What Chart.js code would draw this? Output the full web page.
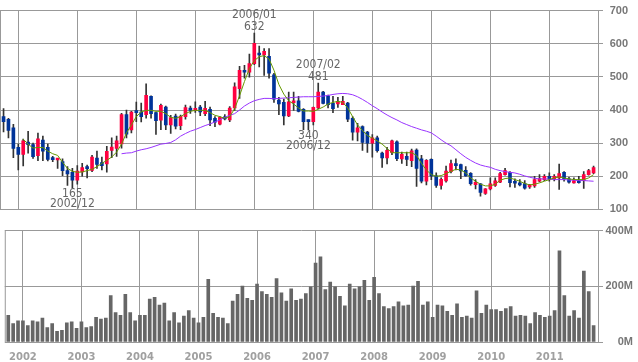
<!DOCTYPE html>
<html>
<head>
<meta charset="utf-8">
<script src="https://cdn.jsdelivr.net/npm/chart.js@4.4.0/dist/chart.umd.min.js"></script>
<style>
  body { margin: 0; background: #fff; }
  #wrap { position: relative; width: 638px; height: 362px; }
  #priceChart { position: absolute; left: 0; top: 0; }
  #volChart { position: absolute; left: 0; top: 220px; }
</style>
</head>
<body>
<div id="wrap">
  <canvas id="priceChart" width="638" height="220"></canvas>
  <canvas id="volChart" width="638" height="142"></canvas>
</div>
<script>
// monthly data, 2001/10 .. 2011/10
const startYear = 2001, startMonth = 10;

const opens = [380,372,346,287,266,303,296,262,309,287,254,249,244,217,212,188,213,227,218,255,
  241,237,278,284,298,386,340,398,394,386,441,392,369,409,355,382,353,380,406,399,
  409,389,402,375,357,379,370,406,464,520,514,540,572,566,562,506,430,423,382,422,
  428,402,370,365,406,454,443,420,418,416,421,375,333,350,333,300,316,270,255,271,
  304,252,260,247,279,253,185,251,201,172,186,214,237,235,218,209,175,177,148,162,
  172,182,205,212,182,180,178,168,171,185,190,200,192,195,212,192,180,187,187,205,210];
const highs = [404,375,357,297,312,336,300,330,321,297,260,254,253,229,224,232,239,234,263,276,
  258,290,316,321,390,400,396,424,421,479,443,394,418,412,384,388,385,415,412,425,
  414,426,409,380,380,386,410,482,532,535,569,632,593,585,585,511,438,433,454,454,
  441,404,370,409,481,456,445,441,438,441,423,380,360,352,336,326,321,273,287,309,
  307,273,273,282,283,263,250,253,210,195,231,249,253,237,229,211,190,178,163,195,
  195,212,224,214,192,190,187,176,200,205,205,210,205,237,214,197,195,200,214,221,231];
const lows = [334,316,256,219,231,270,254,247,247,246,244,224,202,172,165,176,200,195,214,224,
  219,212,256,260,285,316,331,365,364,375,375,326,341,341,329,343,341,372,390,393,
  383,383,353,350,355,370,365,399,435,496,499,537,530,504,496,423,386,355,380,399,
  394,341,340,355,404,418,406,392,408,416,365,309,307,278,272,258,273,227,237,265,
  247,239,232,229,169,180,174,190,166,161,182,210,219,193,200,173,162,140,145,159,
  169,181,203,168,166,171,161,163,166,183,187,185,186,160,185,179,179,179,163,203,208];
const closes = [365,338,284,266,307,295,259,313,276,251,250,251,217,207,188,216,226,223,258,236,
  232,275,288,307,386,327,394,392,380,444,389,368,414,355,377,351,381,407,399,405,
  394,405,370,363,378,373,406,470,520,514,540,601,566,577,511,433,418,382,425,425,
  396,365,365,408,454,420,416,404,426,426,372,333,346,302,300,316,277,255,278,307,
  253,266,251,277,224,185,248,201,172,191,216,238,232,216,201,178,182,151,162,177,
  186,208,217,181,179,174,164,174,190,193,200,192,200,208,192,182,187,181,205,217,226];

// volume in millions of shares
const volumes = [96,66,76,76,59,76,72,86,52,66,38,42,69,72,49,72,52,55,89,82,
  86,167,106,96,171,106,76,96,96,154,160,133,140,76,106,69,93,113,86,69,
  89,225,103,89,86,66,147,171,201,157,150,208,181,171,160,228,177,147,191,150,
  154,174,198,283,306,188,215,198,164,130,208,191,198,221,150,232,174,127,120,127,
  144,130,133,201,218,133,144,89,133,130,110,96,137,89,93,86,184,103,133,116,
  116,110,120,127,93,96,93,66,106,96,89,93,113,327,167,93,113,86,255,181,59];

// short moving average (green), starts at month index 4
const maShortStart = 4;
const maShort = [312,297,285,287,287,276,268,263,242,224,215,212,213,217,221,229,239,248,258,273,
  297,331,355,380,394,399,399,396,396,389,378,375,380,389,396,399,399,399,392,384,
  380,375,380,404,443,486,525,549,561,564,554,520,477,448,428,418,406,397,397,396,
  402,409,418,423,426,423,406,380,355,338,323,315,307,297,284,271,271,271,271,271,
  263,239,219,205,200,202,208,215,221,219,210,195,185,176,171,171,176,188,193,195,
  190,185,178,174,176,180,185,190,195,198,195,192,190,190,190,195,205];

// long moving average (purple), starts at month index 24
const maLongStart = 24;
const maLong = [268,270,271,276,280,283,287,292,297,299,302,310,321,329,336,341,347,353,358,364,
  370,378,384,389,400,412,421,428,432,435,435,434,435,436,437,438,439,440,440,440,
  441,442,444,447,449,450,449,446,440,432,423,413,404,394,385,377,370,362,356,350,
  345,340,336,331,321,310,300,292,280,268,257,248,240,234,230,227,221,217,214,212,
  210,206,201,197,194,192,192,191,190,190,190,189,188,187,187,186,185];

const yearLabels = ['2002','2003','2004','2005','2006','2007','2008','2009','2010','2011'];
const priceTicks = [100,200,300,400,500,600,700];
const volTicks = [0,200,400];

// marked extremes: [month index, 'high' | 'low']
const notes = [[51,'high'],[64,'high'],[14,'low'],[62,'low']];

const months = [];
for (let i = 0; i < opens.length; i++) {
  const m = (startMonth - 1 + i) % 12 + 1;
  const y = startYear + Math.floor((startMonth - 1 + i) / 12);
  months.push(y + '/' + String(m).padStart(2, '0'));
}
const yearIdx = yearLabels.map(y => months.indexOf(y + '/01'));

const UP = '#ff0040', DOWN = '#003399', GRID = '#999999';
const X_MIN = -0.72, X_MAX = 120.9;
const AXIS_FONT = { family: 'Liberation Sans', size: 11, weight: 'bold' };

function xScale(showLabels) {
  return {
    type: 'linear',
    offset: false,
    min: X_MIN,
    max: X_MAX,
    afterBuildTicks: (s) => { s.ticks = yearIdx.map(v => ({ value: v })); },
    afterFit: (s) => { s.height = showLabels ? 20 : 0; },
    grid: { color: GRID, drawTicks: false, offset: false },
    border: { display: false },
    ticks: {
      display: showLabels,
      autoSkip: false,
      maxRotation: 0,
      padding: 9,
      color: '#a0a0a0',
      font: { family: 'DejaVu Sans', size: 10, weight: 'bold' },
      callback: (v) => yearLabels[yearIdx.indexOf(v)] || ''
    }
  };
}

// axis box runs from the plot edge (598) to labelRight, labels right-aligned
function yScale(min, max, tickVals, fmt, labelRight) {
  return {
    position: 'right',
    min: min,
    max: max,
    afterBuildTicks: (s) => { s.ticks = tickVals.map(v => ({ value: v })); },
    afterFit: (s) => { s.width = labelRight - 598; },
    grid: { color: GRID, tickLength: 5 },
    border: { color: GRID },
    ticks: {
      padding: 4,
      crossAlign: 'far',
      color: '#777777',
      font: AXIS_FONT,
      callback: fmt
    }
  };
}

const leftFrame = {
  id: 'leftFrame',
  afterDraw(chart) {
    const a = chart.chartArea, ctx = chart.ctx;
    ctx.save();
    ctx.strokeStyle = GRID;
    ctx.lineWidth = 1;
    ctx.beginPath();
    ctx.moveTo(a.left + 0.5, a.top);
    ctx.lineTo(a.left + 0.5, a.bottom);
    ctx.stroke();
    ctx.restore();
  }
};

const noteLabels = {
  id: 'noteLabels',
  afterDatasetsDraw(chart) {
    const ctx = chart.ctx, xs = chart.scales.x, ys = chart.scales.y;
    ctx.save();
    ctx.fillStyle = '#666666';
    ctx.font = '12px "Liberation Sans Narrow", "DejaVu Sans Condensed", sans-serif';
    ctx.textAlign = 'center';
    ctx.textBaseline = 'alphabetic';
    notes.forEach(([i, kind]) => {
      const px = xs.getPixelForValue(i);
      if (kind === 'high') {
        const py = ys.getPixelForValue(highs[i]);
        ctx.fillText(String(highs[i]), px, py - 3.5);
        ctx.fillText(months[i], px, py - 15.5);
      } else {
        const py = ys.getPixelForValue(lows[i]);
        ctx.fillText(String(lows[i]), px, py + 9.5);
        ctx.fillText(months[i], px, py + 19.5);
      }
    });
    ctx.restore();
  }
};

const baseOpts = {
  responsive: false,
  animation: false,
  events: [],
  plugins: { legend: { display: false }, tooltip: { enabled: false } }
};

new Chart(document.getElementById('priceChart'), {
  type: 'bar',
  data: {
    datasets: [
      {
        type: 'line',
        data: maShort.map((v, k) => ({ x: maShortStart + k, y: v })),
        borderColor: '#669900',
        borderWidth: 1,
        pointRadius: 0,
        tension: 0
      },
      {
        type: 'line',
        data: maLong.map((v, k) => ({ x: maLongStart + k, y: v })),
        borderColor: '#9933ff',
        borderWidth: 1,
        pointRadius: 0,
        tension: 0
      },
      {
        data: opens.map((o, i) => ({ x: i, y: [o, closes[i]] })),
        backgroundColor: opens.map((o, i) => closes[i] >= o ? UP : DOWN),
        barThickness: 3,
        minBarLength: 2,
        grouped: false
      },
      {
        data: lows.map((l, i) => ({ x: i, y: [l, highs[i]] })),
        backgroundColor: '#333333',
        barThickness: 1,
        grouped: false
      }
    ]
  },
  options: Object.assign({}, baseOpts, {
    layout: { padding: { top: 5, bottom: 9, left: 0, right: 638 - 628 } },
    scales: {
      x: xScale(false),
      y: yScale(100, 700, priceTicks, (v) => String(v), 628)
    }
  }),
  plugins: [leftFrame, noteLabels]
});

new Chart(document.getElementById('volChart'), {
  type: 'bar',
  data: {
    datasets: [{
      data: volumes.map((v, i) => ({ x: i, y: v })),
      backgroundColor: '#666666',
      barThickness: 3,
      grouped: false
    }]
  },
  options: Object.assign({}, baseOpts, {
    layout: { padding: { top: 5, bottom: 0, left: 0, right: 638 - 633 } },
    scales: {
      x: xScale(true),
      y: yScale(0, 400, volTicks, (v) => v + 'M', 633)
    }
  }),
  plugins: [leftFrame]
});
</script>
</body>
</html>
